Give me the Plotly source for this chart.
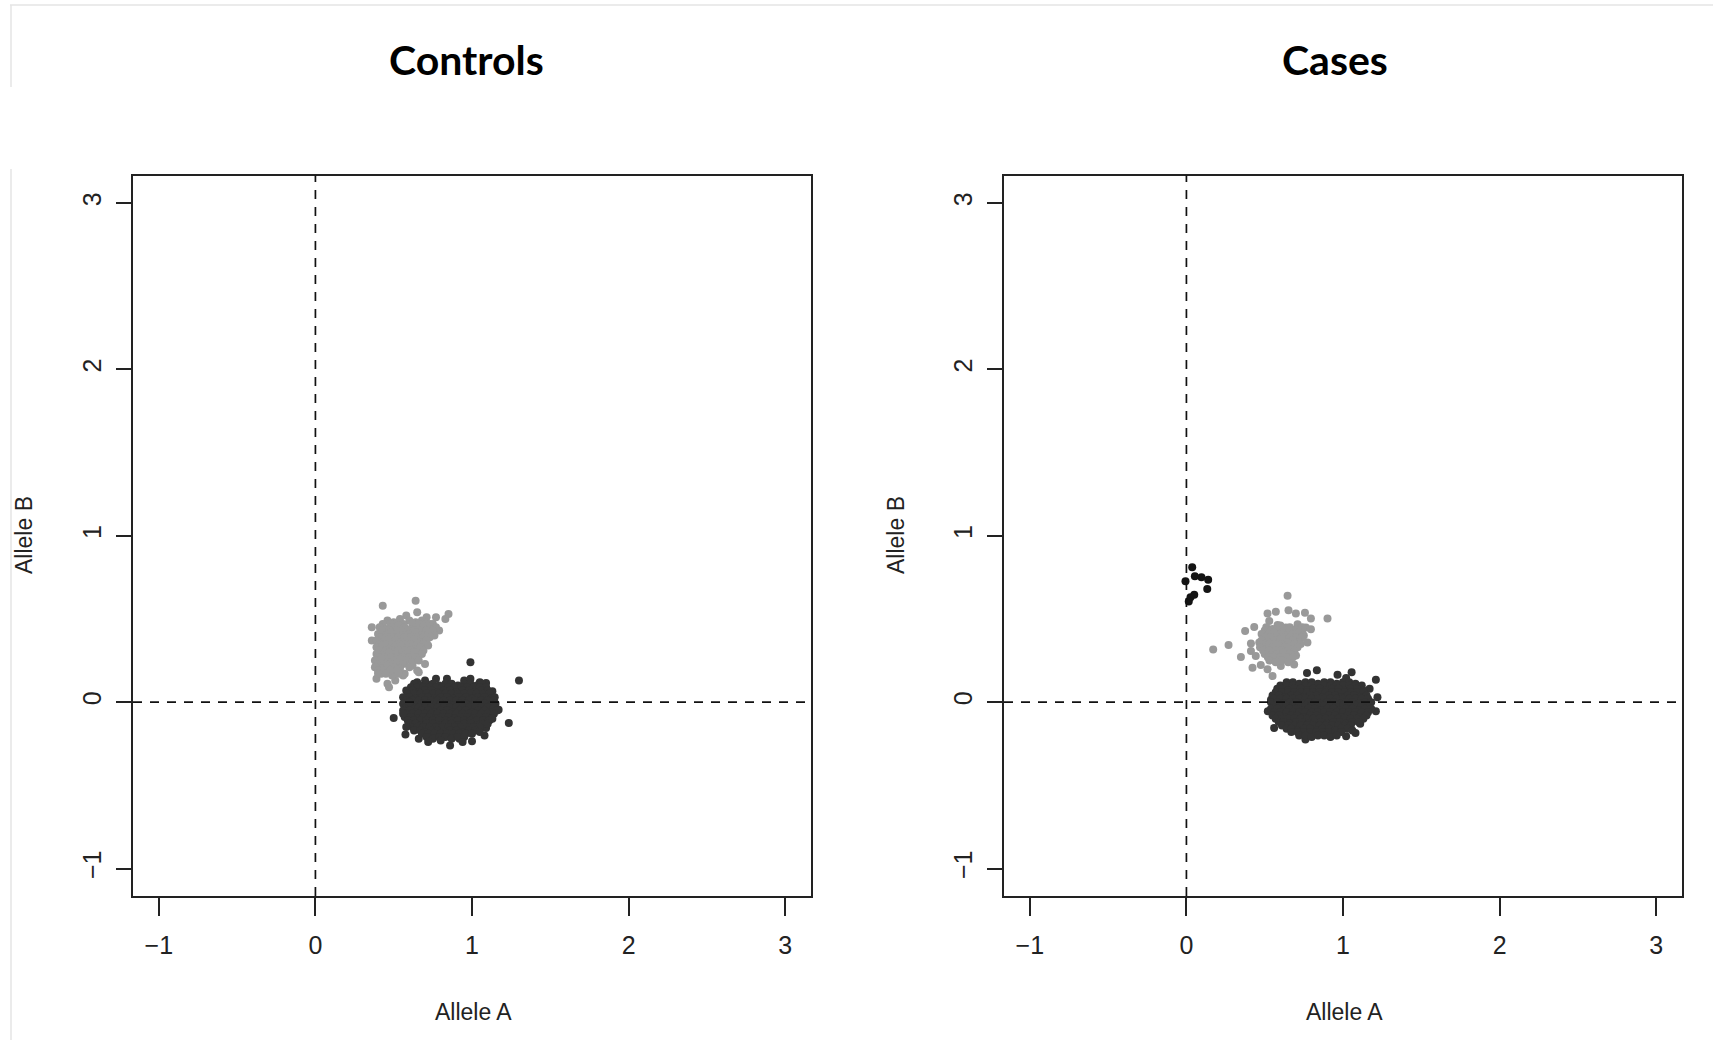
import plotly.graph_objects as go

# ---------------- data ----------------
panel_titles = ["Controls", "Cases"]
x_label = "Allele A"
y_label = "Allele B"
tick_vals = [-1, 0, 1, 2, 3]
axis_range = [-1.165, 3.165]

# Controls: heterozygous-like (light grey) cluster
ctrl_het = [
    (0.64, 0.61), (0.43, 0.58), (0.58, 0.52), (0.65, 0.54), (0.77, 0.51), (0.85, 0.53), (0.83, 0.50), (0.71, 0.51),
    (0.36, 0.45), (0.36, 0.37), (0.79, 0.43), (0.70, 0.23), (0.66, 0.18), (0.57, 0.17), (0.47, 0.09), (0.39, 0.14),
    (0.42, 0.17), (0.51, 0.13), (0.49, 0.16), (0.56, 0.16), (0.65, 0.19), (0.46, 0.11),
    (0.46, 0.49), (0.50, 0.48), (0.54, 0.50), (0.60, 0.49), (0.64, 0.48), (0.68, 0.49), (0.73, 0.47),
    (0.43, 0.47), (0.48, 0.47), (0.52, 0.47), (0.56, 0.47), (0.62, 0.47), (0.66, 0.47), (0.71, 0.47), (0.75, 0.47),
    (0.41, 0.45), (0.45, 0.44), (0.49, 0.45), (0.53, 0.46), (0.57, 0.45), (0.61, 0.44), (0.65, 0.45), (0.69, 0.46), (0.73, 0.44), (0.77, 0.45),
    (0.43, 0.43), (0.47, 0.43), (0.51, 0.43), (0.55, 0.43), (0.59, 0.43), (0.63, 0.43), (0.67, 0.43), (0.71, 0.43), (0.75, 0.43),
    (0.40, 0.41), (0.44, 0.40), (0.48, 0.42), (0.52, 0.41), (0.56, 0.40), (0.60, 0.41), (0.64, 0.42), (0.68, 0.40), (0.72, 0.41), (0.76, 0.40),
    (0.41, 0.39), (0.45, 0.39), (0.49, 0.39), (0.53, 0.39), (0.57, 0.39), (0.61, 0.39), (0.65, 0.39), (0.69, 0.39), (0.73, 0.39),
    (0.39, 0.37), (0.43, 0.36), (0.47, 0.38), (0.51, 0.37), (0.55, 0.36), (0.59, 0.37), (0.63, 0.38), (0.67, 0.36), (0.71, 0.37),
    (0.41, 0.35), (0.45, 0.35), (0.49, 0.35), (0.53, 0.35), (0.57, 0.35), (0.61, 0.35), (0.65, 0.35), (0.69, 0.35),
    (0.39, 0.33), (0.43, 0.34), (0.47, 0.32), (0.51, 0.33), (0.55, 0.34), (0.59, 0.33), (0.63, 0.32), (0.67, 0.33), (0.72, 0.34),
    (0.41, 0.31), (0.45, 0.31), (0.49, 0.31), (0.53, 0.31), (0.57, 0.31), (0.61, 0.31), (0.65, 0.31), (0.69, 0.31),
    (0.39, 0.29), (0.43, 0.28), (0.47, 0.30), (0.51, 0.29), (0.55, 0.28), (0.59, 0.29), (0.63, 0.30), (0.68, 0.29),
    (0.40, 0.27), (0.44, 0.27), (0.48, 0.27), (0.52, 0.27), (0.56, 0.27), (0.60, 0.27), (0.64, 0.27),
    (0.38, 0.25), (0.42, 0.26), (0.46, 0.24), (0.50, 0.25), (0.54, 0.26), (0.58, 0.25), (0.62, 0.24), (0.66, 0.25),
    (0.40, 0.23), (0.44, 0.23), (0.48, 0.23), (0.52, 0.23), (0.56, 0.23), (0.62, 0.22),
    (0.38, 0.21), (0.42, 0.20), (0.46, 0.22), (0.50, 0.21), (0.54, 0.20), (0.60, 0.21),
    (0.40, 0.19), (0.44, 0.19), (0.48, 0.19), (0.52, 0.19),
    (0.40, 0.17), (0.45, 0.17), (0.53, 0.17),
]

# Controls: homozygous-like (dark grey) cluster
ctrl_hom = [
    (0.99, 0.24), (1.30, 0.13), (0.50, -0.095), (1.235, -0.125), (0.86, -0.26), (1.00, -0.235), (0.575, -0.195),
    (1.09, 0.115), (1.13, 0.065), (1.17, -0.045), (1.08, -0.20), (1.09, -0.155), (0.92, -0.22), (0.66, -0.22),
    (0.65, 0.12), (0.70, 0.13), (0.77, 0.14), (0.84, 0.14), (0.95, 0.13), (0.99, 0.14), (1.05, 0.12),
    (0.63, 0.11), (0.67, 0.10), (0.71, 0.11), (0.75, 0.11), (0.79, 0.10), (0.83, 0.11), (0.87, 0.11),
    (0.91, 0.10), (0.95, 0.11), (0.99, 0.11), (1.03, 0.10), (1.06, 0.11),
    (0.61, 0.09), (0.65, 0.09), (0.69, 0.09), (0.73, 0.09), (0.77, 0.09), (0.81, 0.09), (0.85, 0.09),
    (0.89, 0.09), (0.93, 0.09), (0.97, 0.09), (1.01, 0.09), (1.05, 0.09), (1.09, 0.09),
    (0.58, 0.07), (0.62, 0.07), (0.66, 0.06), (0.70, 0.07), (0.74, 0.07), (0.78, 0.06), (0.82, 0.07), (0.86, 0.07),
    (0.90, 0.06), (0.94, 0.07), (0.98, 0.07), (1.02, 0.06), (1.06, 0.07), (1.10, 0.07),
    (0.59, 0.05), (0.63, 0.05), (0.67, 0.05), (0.71, 0.05), (0.75, 0.05), (0.79, 0.05), (0.83, 0.05),
    (0.87, 0.05), (0.91, 0.05), (0.95, 0.05), (0.99, 0.05), (1.03, 0.05), (1.07, 0.05), (1.11, 0.05),
    (0.56, 0.03), (0.60, 0.03), (0.64, 0.02), (0.68, 0.03), (0.72, 0.03), (0.76, 0.02), (0.80, 0.03), (0.84, 0.03),
    (0.88, 0.02), (0.92, 0.03), (0.96, 0.03), (1.00, 0.02), (1.04, 0.03), (1.08, 0.03), (1.12, 0.02), (1.145, 0.03),
    (0.58, 0.01), (0.62, 0.01), (0.66, 0.01), (0.70, 0.01), (0.74, 0.01), (0.78, 0.01), (0.82, 0.01), (0.86, 0.01),
    (0.90, 0.01), (0.94, 0.01), (0.98, 0.01), (1.02, 0.01), (1.06, 0.01), (1.10, 0.01), (1.14, 0.01),
    (0.56, -0.01), (0.60, -0.01), (0.64, -0.02), (0.68, -0.01), (0.72, -0.01), (0.76, -0.02), (0.80, -0.01), (0.84, -0.01),
    (0.88, -0.02), (0.92, -0.01), (0.96, -0.01), (1.00, -0.02), (1.04, -0.01), (1.08, -0.01), (1.12, -0.02), (1.15, -0.01),
    (0.58, -0.03), (0.62, -0.03), (0.66, -0.03), (0.70, -0.03), (0.74, -0.03), (0.78, -0.03), (0.82, -0.03), (0.86, -0.03),
    (0.90, -0.03), (0.94, -0.03), (0.98, -0.03), (1.02, -0.03), (1.06, -0.03), (1.10, -0.03), (1.14, -0.03),
    (0.56, -0.05), (0.60, -0.05), (0.64, -0.06), (0.68, -0.05), (0.72, -0.05), (0.76, -0.06), (0.80, -0.05), (0.84, -0.05),
    (0.88, -0.06), (0.92, -0.05), (0.96, -0.05), (1.00, -0.06), (1.04, -0.05), (1.08, -0.05), (1.12, -0.06), (1.16, -0.05),
    (0.58, -0.07), (0.62, -0.07), (0.66, -0.07), (0.70, -0.07), (0.74, -0.07), (0.78, -0.07), (0.82, -0.07), (0.86, -0.07),
    (0.90, -0.07), (0.94, -0.07), (0.98, -0.07), (1.02, -0.07), (1.06, -0.07), (1.10, -0.07), (1.14, -0.07),
    (0.57, -0.09), (0.61, -0.09), (0.65, -0.10), (0.69, -0.09), (0.73, -0.09), (0.77, -0.10), (0.81, -0.09), (0.85, -0.09),
    (0.89, -0.10), (0.93, -0.09), (0.97, -0.09), (1.01, -0.10), (1.05, -0.09), (1.09, -0.09), (1.12, -0.10),
    (0.59, -0.11), (0.63, -0.11), (0.67, -0.11), (0.71, -0.11), (0.75, -0.11), (0.79, -0.11), (0.83, -0.11),
    (0.87, -0.11), (0.91, -0.11), (0.95, -0.11), (0.99, -0.11), (1.03, -0.11), (1.07, -0.11), (1.11, -0.11),
    (0.60, -0.13), (0.64, -0.13), (0.67, -0.14), (0.71, -0.13), (0.75, -0.13), (0.79, -0.14), (0.83, -0.13), (0.87, -0.13),
    (0.91, -0.14), (0.95, -0.13), (0.99, -0.13), (1.03, -0.14), (1.07, -0.13), (1.10, -0.13),
    (0.62, -0.15), (0.65, -0.15), (0.69, -0.15), (0.73, -0.15), (0.77, -0.15), (0.81, -0.15), (0.85, -0.15),
    (0.89, -0.15), (0.93, -0.15), (0.97, -0.15), (1.01, -0.15), (1.05, -0.15),
    (0.63, -0.17), (0.67, -0.17), (0.70, -0.18), (0.74, -0.17), (0.78, -0.17), (0.82, -0.18), (0.86, -0.17), (0.90, -0.17),
    (0.94, -0.18), (0.98, -0.17), (1.02, -0.17), (1.05, -0.18),
    (0.68, -0.19), (0.72, -0.19), (0.76, -0.19), (0.80, -0.19), (0.84, -0.19), (0.88, -0.19), (0.92, -0.19), (0.96, -0.19), (1.00, -0.19),
    (0.71, -0.21), (0.75, -0.22), (0.79, -0.21), (0.83, -0.21), (0.87, -0.22), (0.91, -0.21), (0.95, -0.21),
    (0.58, -0.15), (1.13, -0.10), (0.72, -0.24), (0.80, -0.23), (0.94, -0.24), (0.60, 0.00), (0.56, -0.07),
]

# Cases: heterozygous-like (light grey) cluster
case_het = [
    (0.646, 0.639), (0.518, 0.532), (0.571, 0.544), (0.652, 0.552), (0.699, 0.532), (0.757, 0.538), (0.795, 0.502),
    (0.901, 0.502), (0.375, 0.428), (0.433, 0.452), (0.529, 0.488), (0.582, 0.464), (0.171, 0.317), (0.269, 0.343),
    (0.348, 0.271), (0.412, 0.352), (0.465, 0.358), (0.412, 0.308), (0.443, 0.277), (0.422, 0.207), (0.475, 0.223),
    (0.518, 0.197), (0.550, 0.157), (0.603, 0.217), (0.688, 0.227), (0.661, 0.277), (0.773, 0.358), (0.795, 0.438),
    (0.763, 0.448), (0.710, 0.468), (0.635, 0.448),
    (0.51, 0.45), (0.55, 0.44), (0.60, 0.46), (0.66, 0.45), (0.70, 0.44), (0.74, 0.45),
    (0.50, 0.43), (0.54, 0.43), (0.58, 0.43), (0.62, 0.43), (0.66, 0.43), (0.70, 0.43), (0.74, 0.43),
    (0.48, 0.41), (0.52, 0.40), (0.56, 0.42), (0.60, 0.41), (0.64, 0.40), (0.68, 0.41), (0.72, 0.42), (0.75, 0.40),
    (0.50, 0.39), (0.54, 0.39), (0.58, 0.39), (0.62, 0.39), (0.66, 0.39), (0.70, 0.39), (0.74, 0.39),
    (0.48, 0.37), (0.52, 0.36), (0.56, 0.37), (0.60, 0.38), (0.64, 0.36), (0.68, 0.37), (0.72, 0.36),
    (0.49, 0.35), (0.53, 0.35), (0.57, 0.35), (0.61, 0.35), (0.65, 0.35), (0.69, 0.35), (0.73, 0.35),
    (0.47, 0.33), (0.51, 0.32), (0.55, 0.33), (0.59, 0.34), (0.63, 0.33), (0.67, 0.32), (0.71, 0.33),
    (0.49, 0.31), (0.53, 0.31), (0.57, 0.31), (0.61, 0.31), (0.65, 0.31), (0.69, 0.31),
    (0.50, 0.29), (0.54, 0.28), (0.58, 0.29), (0.62, 0.30), (0.66, 0.29), (0.70, 0.28),
    (0.52, 0.27), (0.56, 0.27), (0.60, 0.27), (0.64, 0.27), (0.68, 0.27),
    (0.53, 0.25), (0.57, 0.24), (0.61, 0.25), (0.65, 0.24),
]

# Cases: homozygous-like (dark grey) cluster
case_hom = [
    (0.833, 0.192), (0.965, 0.165), (1.055, 0.18), (1.21, 0.135), (1.22, 0.03), (1.21, -0.055), (1.17, 0.08),
    (0.56, -0.155), (0.76, -0.225), (1.08, -0.185), (1.11, -0.13), (0.77, 0.175), (1.02, 0.145), (0.52, -0.055),
    (0.54, 0.015), (1.02, -0.205),
    (0.64, 0.12), (0.68, 0.12), (0.72, 0.11), (0.76, 0.12), (0.80, 0.12), (0.84, 0.11), (0.88, 0.12), (0.92, 0.12),
    (0.96, 0.11), (1.00, 0.12), (1.04, 0.12), (1.08, 0.11),
    (0.60, 0.10), (0.64, 0.10), (0.68, 0.10), (0.72, 0.10), (0.76, 0.10), (0.80, 0.10), (0.84, 0.10),
    (0.88, 0.10), (0.92, 0.10), (0.96, 0.10), (1.00, 0.10), (1.04, 0.10), (1.08, 0.10), (1.12, 0.10),
    (0.58, 0.08), (0.61, 0.08), (0.65, 0.07), (0.69, 0.08), (0.73, 0.08), (0.77, 0.07), (0.81, 0.08), (0.85, 0.08),
    (0.89, 0.07), (0.93, 0.08), (0.97, 0.08), (1.01, 0.07), (1.05, 0.08), (1.09, 0.08), (1.13, 0.07),
    (0.57, 0.06), (0.61, 0.06), (0.65, 0.06), (0.69, 0.06), (0.73, 0.06), (0.77, 0.06), (0.81, 0.06), (0.85, 0.06),
    (0.89, 0.06), (0.93, 0.06), (0.97, 0.06), (1.01, 0.06), (1.05, 0.06), (1.09, 0.06), (1.13, 0.06),
    (0.55, 0.04), (0.59, 0.04), (0.63, 0.03), (0.67, 0.04), (0.71, 0.04), (0.75, 0.03), (0.79, 0.04), (0.83, 0.04),
    (0.87, 0.03), (0.91, 0.04), (0.95, 0.04), (0.99, 0.03), (1.03, 0.04), (1.07, 0.04), (1.11, 0.03), (1.15, 0.04),
    (0.56, 0.02), (0.60, 0.02), (0.64, 0.02), (0.68, 0.02), (0.72, 0.02), (0.76, 0.02), (0.80, 0.02), (0.84, 0.02),
    (0.88, 0.02), (0.92, 0.02), (0.96, 0.02), (1.00, 0.02), (1.04, 0.02), (1.08, 0.02), (1.12, 0.02), (1.16, 0.02),
    (0.54, 0.00), (0.58, 0.00), (0.62, -0.01), (0.66, 0.00), (0.70, 0.00), (0.74, -0.01), (0.78, 0.00), (0.82, 0.00),
    (0.86, -0.01), (0.90, 0.00), (0.94, 0.00), (0.98, -0.01), (1.02, 0.00), (1.06, 0.00), (1.10, -0.01), (1.14, 0.00), (1.18, 0.00),
    (0.56, -0.02), (0.60, -0.02), (0.64, -0.02), (0.68, -0.02), (0.72, -0.02), (0.76, -0.02), (0.80, -0.02), (0.84, -0.02),
    (0.88, -0.02), (0.92, -0.02), (0.96, -0.02), (1.00, -0.02), (1.04, -0.02), (1.08, -0.02), (1.12, -0.02), (1.16, -0.02),
    (0.54, -0.04), (0.58, -0.04), (0.62, -0.05), (0.66, -0.04), (0.70, -0.04), (0.74, -0.05), (0.78, -0.04), (0.82, -0.04),
    (0.86, -0.05), (0.90, -0.04), (0.94, -0.04), (0.98, -0.05), (1.02, -0.04), (1.06, -0.04), (1.10, -0.05), (1.14, -0.04), (1.18, -0.04),
    (0.56, -0.06), (0.60, -0.06), (0.64, -0.06), (0.68, -0.06), (0.72, -0.06), (0.76, -0.06), (0.80, -0.06), (0.84, -0.06),
    (0.88, -0.06), (0.92, -0.06), (0.96, -0.06), (1.00, -0.06), (1.04, -0.06), (1.08, -0.06), (1.12, -0.06), (1.16, -0.06),
    (0.55, -0.08), (0.59, -0.08), (0.63, -0.09), (0.67, -0.08), (0.71, -0.08), (0.75, -0.09), (0.79, -0.08), (0.83, -0.08),
    (0.87, -0.09), (0.91, -0.08), (0.95, -0.08), (0.99, -0.09), (1.03, -0.08), (1.07, -0.08), (1.11, -0.09), (1.15, -0.08),
    (0.57, -0.10), (0.61, -0.10), (0.65, -0.10), (0.69, -0.10), (0.73, -0.10), (0.77, -0.10), (0.81, -0.10), (0.85, -0.10),
    (0.89, -0.10), (0.93, -0.10), (0.97, -0.10), (1.01, -0.10), (1.05, -0.10), (1.09, -0.10), (1.13, -0.10),
    (0.59, -0.12), (0.62, -0.12), (0.66, -0.13), (0.70, -0.12), (0.74, -0.12), (0.78, -0.13), (0.82, -0.12), (0.86, -0.12),
    (0.90, -0.13), (0.94, -0.12), (0.98, -0.12), (1.02, -0.13), (1.06, -0.12), (1.10, -0.12),
    (0.61, -0.14), (0.65, -0.14), (0.69, -0.14), (0.73, -0.14), (0.77, -0.14), (0.81, -0.14), (0.85, -0.14),
    (0.89, -0.14), (0.93, -0.14), (0.97, -0.14), (1.01, -0.14), (1.05, -0.14),
    (0.64, -0.16), (0.67, -0.16), (0.71, -0.17), (0.75, -0.16), (0.79, -0.16), (0.83, -0.17), (0.87, -0.16), (0.91, -0.16),
    (0.95, -0.17), (0.99, -0.16), (1.03, -0.16), (1.06, -0.17),
    (0.67, -0.18), (0.71, -0.18), (0.75, -0.18), (0.79, -0.18), (0.83, -0.18), (0.87, -0.18), (0.91, -0.18), (0.95, -0.18), (0.99, -0.18),
    (0.72, -0.20), (0.76, -0.20), (0.80, -0.21), (0.84, -0.20), (0.88, -0.20), (0.92, -0.21), (0.96, -0.20),
]

# Cases: small separate (black) group near x = 0
case_other = [
    (0.037, 0.811), (-0.006, 0.727), (0.054, 0.756), (0.096, 0.750), (0.139, 0.736),
    (0.133, 0.680), (0.026, 0.630), (0.050, 0.646), (0.015, 0.605),
]

# ---------------- figure ----------------
W, H = 1713, 1040
LIGHT = "#999999"
DARK = "#333333"
BLACK = "#141414"
AX = "#222222"
LABEL_FONT = "Liberation Sans Narrow, Arial Narrow, Liberation Sans, Arial, sans-serif"

fig = go.Figure()


def add_points(points, color, xa, ya):
    fig.add_trace(go.Scatter(
        x=[p[0] for p in points], y=[p[1] for p in points],
        mode="markers", xaxis=xa, yaxis=ya,
        marker=dict(size=8, color=color, line=dict(width=0)),
        showlegend=False, hoverinfo="skip",
    ))


add_points(ctrl_het, LIGHT, "x", "y")
add_points(ctrl_hom, DARK, "x", "y")
add_points(case_het, LIGHT, "x2", "y2")
add_points(case_hom, DARK, "x2", "y2")
add_points(case_other, BLACK, "x2", "y2")

ydom = [1 - 896 / H, 1 - 175.5 / H]
xdom_left = [133 / W, 811 / W]
xdom_right = [1004 / W, 1682 / W]

common = dict(
    range=axis_range, tickvals=tick_vals, showgrid=False, zeroline=False,
    showline=True, mirror=True, linecolor=AX, linewidth=2,
    ticks="outside", tickwidth=1.5, tickcolor=AX,
    tickfont=dict(family=LABEL_FONT, size=25, color="#222222"),
    fixedrange=True,
)

fig.update_layout(
    width=W, height=H, margin=dict(l=0, r=0, t=0, b=0),
    paper_bgcolor="white", plot_bgcolor="white",
    xaxis=dict(domain=xdom_left, anchor="y", ticklen=18, ticklabelstandoff=8, **common),
    yaxis=dict(domain=ydom, anchor="x", ticklen=15, tickangle=-90, ticklabelstandoff=5, **common),
    xaxis2=dict(domain=xdom_right, anchor="y2", ticklen=18, ticklabelstandoff=8, **common),
    yaxis2=dict(domain=ydom, anchor="x2", ticklen=15, tickangle=-90, ticklabelstandoff=5, **common),
)

dash = dict(color="#111111", width=1.7, dash="9px,8px")
shapes = []
for xr, yr in (("x", "y"), ("x2", "y2")):
    shapes.append(dict(type="line", xref=xr, yref=yr + " domain", x0=0, x1=0, y0=0, y1=1, line=dash))
    shapes.append(dict(type="line", xref=xr + " domain", yref=yr, x0=0, x1=1, y0=0, y1=0, line=dash))

# faint frame lines of the surrounding slide
frame = dict(color="#e4e4e4", width=1.5)
shapes.append(dict(type="line", xref="paper", yref="paper", x0=10 / W, x1=1, y0=1 - 5 / H, y1=1 - 5 / H, line=frame))
shapes.append(dict(type="line", xref="paper", yref="paper", x0=11 / W, x1=11 / W, y0=1 - 5 / H, y1=1 - 87 / H, line=frame))
shapes.append(dict(type="line", xref="paper", yref="paper", x0=11 / W, x1=11 / W, y0=1 - 169 / H, y1=0, line=frame))
fig.update_layout(shapes=shapes)

annotations = []
for title, cx in zip(panel_titles, (466.5, 1334.5)):
    annotations.append(dict(text=f"<b>{title}</b>", x=cx / W, y=1 - 59 / H, xref="paper", yref="paper",
                            xanchor="center", yanchor="middle", showarrow=False,
                            font=dict(family="Lato, Open Sans, sans-serif", size=41, color="black")))
for cx in (473, 1344):
    annotations.append(dict(text=x_label, x=cx / W, y=1 - 1012 / H, xref="paper", yref="paper",
                            xanchor="center", yanchor="middle", showarrow=False,
                            font=dict(family=LABEL_FONT, size=23, color="#222222")))
for cx in (24, 896):
    annotations.append(dict(text=y_label, x=cx / W, y=1 - 535 / H, xref="paper", yref="paper",
                            xanchor="center", yanchor="middle", showarrow=False, textangle=-90,
                            font=dict(family=LABEL_FONT, size=23, color="#222222")))
fig.update_layout(annotations=annotations)

fig.write_html("out.html")
